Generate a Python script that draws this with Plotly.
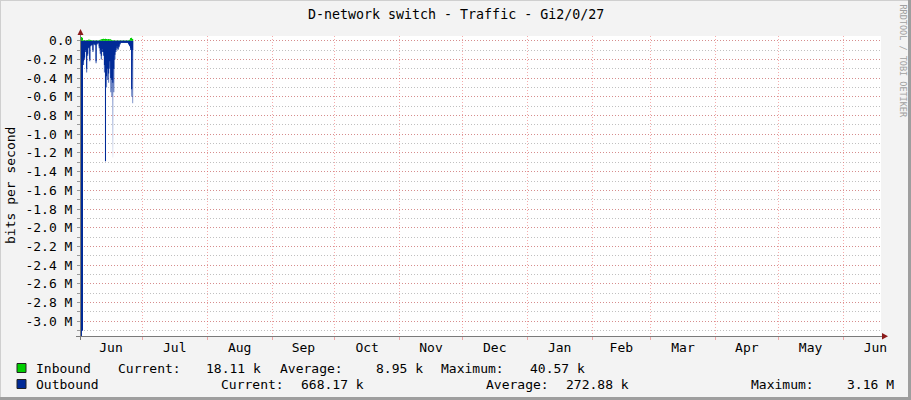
import plotly.graph_objects as go
import pandas as pd

TITLE = "D-network switch - Traffic - Gi2/0/27"
Y_TITLE = "bits per second"
WATERMARK = "RRDTOOL / TOBI OETIKER"
START = "2016-06-01 15:00"
X_RANGE = ["2016-06-01 16:00", "2017-06-19 04:00"]
Y_RANGE = [-3.157e6, 0.05e6]

# samples every 12 hours (kbit/s inbound, Mbit/s outbound)
inbound_k = [40, 30, 5, 4, 3, 6, 5, 12, 10, 6, 4, 3, 2, 2, 4, 3, 2, 4, 10, 16,
             18, 20, 18, 20, 18, 16, 18, 15, 14, 8, 5, 4, 3, 3, 3, 2, 2, 2, 2, 2,
             2, 2, 2, 2, 2, 4, 10, 28, 32, 18, 0]
outbound_avg_M = [3.16, 3.10, 0.22, 0.18, 0.10, 0.30, 0.14, 0.07, 0.20, 0.05,
                  0.04, 0.10, 0.03, 0.04, 0.22, 0.03, 0.02, 0.06, 0.10, 0.16,
                  0.09, 0.12, 0.26, 1.29, 0.38, 0.30, 0.35, 0.22, 0.40, 0.42,
                  0.45, 0.30, 0.15, 0.10, 0.06, 0.09, 0.06, 0.03, 0.02, 0.02,
                  0.02, 0.02, 0.02, 0.02, 0.02, 0.03, 0.05, 0.08, 0.52, 0.10, 0.0]
outbound_max_M = [3.16, 3.10, 0.26, 0.20, 0.12, 0.34, 0.16, 0.08, 0.22, 0.06,
                  0.05, 0.12, 0.04, 0.05, 0.24, 0.04, 0.03, 0.08, 0.14, 0.20,
                  0.12, 0.16, 0.34, 1.29, 0.50, 0.42, 0.45, 0.30, 0.55, 0.60,
                  1.25, 0.55, 0.20, 0.12, 0.08, 0.10, 0.07, 0.04, 0.025, 0.025,
                  0.025, 0.025, 0.025, 0.025, 0.025, 0.04, 0.06, 0.10, 0.60, 0.668, 0.0]

ytick_vals = [0, -0.2e6, -0.4e6, -0.6e6, -0.8e6, -1.0e6, -1.2e6, -1.4e6, -1.6e6,
              -1.8e6, -2.0e6, -2.2e6, -2.4e6, -2.6e6, -2.8e6, -3.0e6]
ytick_text = ["0.0", "-0.2 M", "-0.4 M", "-0.6 M", "-0.8 M", "-1.0 M", "-1.2 M",
              "-1.4 M", "-1.6 M", "-1.8 M", "-2.0 M", "-2.2 M", "-2.4 M", "-2.6 M",
              "-2.8 M", "-3.0 M"]

legend_rows = [
    ("Inbound", "#00CF00", [("Current:", 117), ("18.11 k", 205), ("Average:", 279),
                            ("8.95 k", 375), ("Maximum:", 440), ("40.57 k", 529)]),
    ("Outbound", "#002A97", [("Current:", 220), ("668.17 k", 300), ("Average:", 485),
                             ("272.88 k", 565), ("Maximum:", 750), ("3.16 M", 846)]),
]

W, H = 911, 400
L, R, T, B = 81, 881, 36, 336
FONT = "DejaVu Sans Mono"


def xp(px):
    return (px - L) / (R - L)


def yp(py):
    return (B - py) / (B - T)


times = pd.date_range(START, periods=len(inbound_k), freq="12h")

fig = go.Figure()
fig.add_trace(go.Scatter(
    x=times, y=[-v * 1e6 for v in outbound_max_M], mode="lines", line_shape="hv",
    line=dict(width=0, color="rgba(0,42,151,0)"), fill="tozeroy",
    fillgradient=dict(type="vertical", start=-1.3e6, stop=0,
                      colorscale=[[0, "rgba(0,42,151,0.06)"], [1, "rgba(0,42,151,0.9)"]]),
    showlegend=False, hoverinfo="skip"))
fig.add_trace(go.Scatter(
    x=times, y=[-v * 1e6 for v in outbound_avg_M], mode="lines", line_shape="hv",
    line=dict(width=0, color="#002A97"), fill="tozeroy", fillcolor="#002A97",
    showlegend=False, hoverinfo="skip"))
fig.add_trace(go.Scatter(
    x=times, y=[v * 1e3 for v in inbound_k], mode="lines", line_shape="hv",
    line=dict(width=0, color="#00CF00"), fill="tozeroy", fillcolor="#00CF00",
    showlegend=False, hoverinfo="skip"))

MGRID = "rgba(235,90,90,0.5)"
GRID = "rgba(150,150,150,0.6)"
DOT = "1px,2px"

annotations = [
    dict(text=TITLE, x=xp(455.5), y=yp(14), font=dict(size=13.3)),
    dict(text=Y_TITLE, x=xp(10), y=yp(186), textangle=-90, font=dict(size=13)),
    dict(text=WATERMARK, x=xp(902.5), y=yp(61), textangle=90,
         font=dict(size=8.5, color="#A0A0A0")),
]
shapes = []
for i, (name, color, items) in enumerate(legend_rows):
    yc = 368 + 16 * i
    shapes.append(dict(type="rect", xref="paper", yref="paper",
                       x0=xp(17), x1=xp(26), y0=yp(yc - 4.5), y1=yp(yc + 4.5),
                       fillcolor=color, line=dict(color="#222", width=1)))
    annotations.append(dict(text=name, x=xp(34), y=yp(yc), xanchor="left"))
    for txt, px in items:
        annotations.append(dict(text=txt, x=xp(px - 1), y=yp(yc), xanchor="left"))

for a in annotations:
    a.setdefault("xanchor", "center")
    a.update(xref="paper", yref="paper", yanchor="middle", showarrow=False)
    f = a.setdefault("font", {})
    f.setdefault("family", FONT)
    f.setdefault("size", 13)
    f.setdefault("color", "#000000")

# frame (3D shade)
shapes += [
    dict(type="line", xref="paper", yref="paper", x0=xp(0), x1=xp(W), y0=yp(0.5), y1=yp(0.5),
         line=dict(color="#CFCFCF", width=1)),
    dict(type="line", xref="paper", yref="paper", x0=xp(0.5), x1=xp(0.5), y0=yp(0), y1=yp(H),
         line=dict(color="#CFCFCF", width=1)),
    dict(type="line", xref="paper", yref="paper", x0=xp(0), x1=xp(W), y0=yp(H - 1.5), y1=yp(H - 1.5),
         line=dict(color="#9E9E9E", width=3)),
    dict(type="line", xref="paper", yref="paper", x0=xp(W - 1.5), x1=xp(W - 1.5), y0=yp(0), y1=yp(H),
         line=dict(color="#9E9E9E", width=3)),
    # axes
    dict(type="line", xref="paper", yref="paper", x0=xp(76), x1=xp(884), y0=yp(B + 0.5), y1=yp(B + 0.5),
         line=dict(color="#7A7A7A", width=1)),
    dict(type="line", xref="paper", yref="paper", x0=xp(80.5), x1=xp(80.5), y0=yp(340), y1=yp(33),
         line=dict(color="#7A7A7A", width=1)),
    # arrows
    dict(type="path", xref="paper", yref="paper",
         path=f"M {xp(77.5)} {yp(35)} L {xp(83.5)} {yp(35)} L {xp(80.5)} {yp(29)} Z",
         fillcolor="#8B1A1A", line=dict(color="#8B1A1A", width=0)),
    dict(type="path", xref="paper", yref="paper",
         path=f"M {xp(882)} {yp(333)} L {xp(882)} {yp(339.5)} L {xp(888)} {yp(336.3)} Z",
         fillcolor="#8B1A1A", line=dict(color="#8B1A1A", width=0)),
]

fig.update_layout(
    width=W, height=H, autosize=False,
    margin=dict(l=L, r=W - R, t=T, b=H - B, pad=0),
    paper_bgcolor="#F3F3F3", plot_bgcolor="#FFFFFF",
    font=dict(family=FONT, size=13, color="#000000"),
    showlegend=False,
    annotations=annotations, shapes=shapes,
    xaxis=dict(type="date", range=X_RANGE, tick0="2016-06-01", dtick="M1",
               tickformat="%b", ticklabelmode="period", automargin=False,
               showgrid=True, gridcolor=MGRID, griddash=DOT, gridwidth=1,
               ticks="outside", ticklen=3, tickcolor=MGRID, showline=False,
               ticklabelstandoff=-4,
               zeroline=False, tickfont=dict(family=FONT, size=13)),
    yaxis=dict(range=Y_RANGE, tickmode="array", tickvals=ytick_vals, ticktext=ytick_text,
               automargin=False, ticklabelstandoff=2,
               showgrid=True, gridcolor=MGRID, griddash=DOT, gridwidth=1,
               ticks="outside", ticklen=3, tickcolor="#999999", showline=False,
               zeroline=False, tickfont=dict(family=FONT, size=13),
               minor=dict(tickmode="linear", tick0=0, dtick=1e5, showgrid=True,
                          gridcolor=GRID, griddash=DOT, ticks="outside",
                          ticklen=3, tickcolor="#999999")),
)

fig.write_html(
    "out.html",
    config={"displayModeBar": False},
    post_script="document.body.style.margin='0px';document.body.style.overflow='hidden';",
)
